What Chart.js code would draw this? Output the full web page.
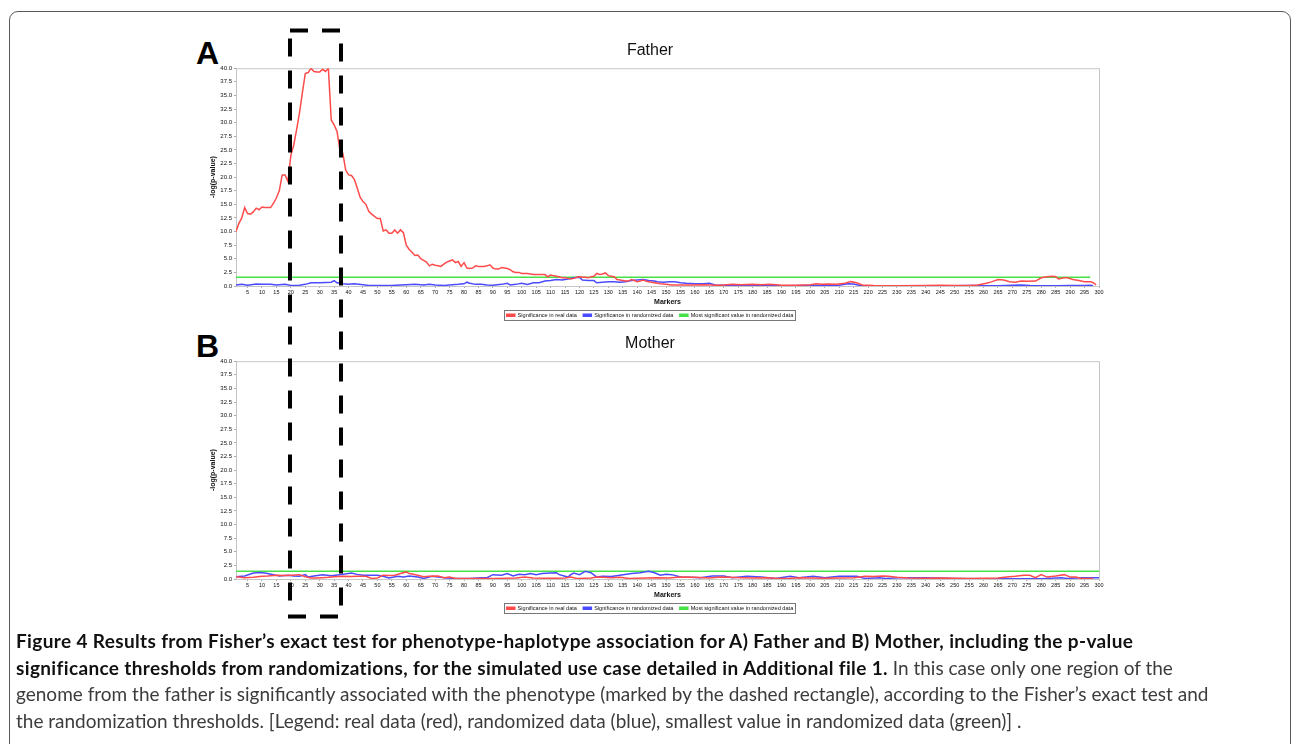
<!DOCTYPE html>
<html>
<head>
<meta charset="utf-8">
<title>Figure 4</title>
<script src="https://cdn.jsdelivr.net/npm/chart.js@4.4.1/dist/chart.umd.min.js"></script>
<style>
  html, body { margin: 0; padding: 0; background: #fff; }
  body { width: 1292px; height: 744px; overflow: hidden; position: relative; font-family: "Liberation Sans", Arial, sans-serif; }
  .frame { position: absolute; left: 9px; top: 11px; width: 1282px; height: 800px; box-sizing: border-box; border: 1.5px solid #5a5a5a; border-radius: 9px; }
  .panel { position: absolute; left: 201px; width: 906px; height: 290px; }
  #panelA { top: 38px; }
  #panelB { top: 331px; }
  .letter { position: absolute; left: 196px; font: bold 32px/32px "Liberation Sans", Arial, sans-serif; color: #000; }
  #box { position: absolute; left: 0; top: 0; pointer-events: none; }
  .caption { position: absolute; left: 16px; top: 628px; font-family: Lato, "Open Sans", sans-serif; font-size: 19px; line-height: 26.7px; color: #3c3c3c; white-space: nowrap; }
  .caption b { color: #111; letter-spacing: 0.36px; }
</style>
</head>
<body>
<div class="frame"></div>
<div class="letter" style="top:37px">A</div>
<div class="letter" style="top:330px">B</div>
<div class="panel" id="panelA"><canvas id="fatherChart"></canvas></div>
<div class="panel" id="panelB"><canvas id="motherChart"></canvas></div>
<svg id="box" width="1292" height="744">
  <rect x="290" y="30.5" width="51" height="586" fill="none" stroke="#000" stroke-width="4" stroke-dasharray="18 14"></rect>
</svg>
<div class="caption">
<b>Figure 4 Results from Fisher’s exact test for phenotype-haplotype association for A) Father and B) Mother, including the p-value</b><br>
<b>significance thresholds from randomizations, for the simulated use case detailed in Additional file 1.</b> In this case only one region of the<br>
genome from the father is significantly associated with the phenotype (marked by the dashed rectangle), according to the Fisher’s exact test and<br>
the randomization thresholds. [Legend: real data (red), randomized data (blue), smallest value in randomized data (green)] .
</div>
<script>
// axis ticks
const xTicks = [5, 10, 15, 20, 25, 30, 35, 40, 45, 50, 55, 60, 65, 70, 75, 80, 85, 90, 95, 100,
    105, 110, 115, 120, 125, 130, 135, 140, 145, 150, 155, 160, 165, 170, 175, 180, 185, 190, 195, 200,
    205, 210, 215, 220, 225, 230, 235, 240, 245, 250, 255, 260, 265, 270, 275, 280, 285, 290, 295, 300];
const yTicks = [0, 2.5, 5, 7.5, 10, 12.5, 15, 17.5, 20, 22.5, 25, 27.5, 30, 32.5, 35, 37.5, 40];

const legendNames = ['Significance in real data', 'Significance in randomized data', 'Most significant value in randomized data'];

// Father - real data
const fatherRealMarkers = [1, 2, 3, 4, 5, 6, 7, 8, 9, 10, 11, 12, 13, 14, 15, 16, 17, 18, 19, 20,
    21, 22, 23, 24, 25, 26, 27, 28, 29, 30, 31, 32, 33, 34, 35, 36, 37, 38, 39, 40,
    41, 42, 43, 44, 45, 46, 47, 48, 49, 50, 51, 52, 53, 54, 55, 56, 57, 58, 59, 60,
    61, 62, 63, 64, 65, 66, 67, 68, 69, 70, 71, 72, 73, 74, 75, 76, 77, 78, 79, 80,
    81, 82, 83, 84, 85, 87, 88, 89, 90, 91, 92, 93, 94, 95, 96, 97, 98, 99, 100,
    102, 104, 106, 108, 109, 110, 111, 112, 113, 114, 115, 116, 117, 118, 119, 120,
    121, 122, 123, 124, 125, 126, 127, 128, 129, 130, 131, 132, 133, 134, 135, 136, 137, 138, 139, 140,
    141, 142, 143, 144, 145, 146, 148, 150, 152, 155, 158, 160, 163, 165, 168, 170, 173, 176, 180,
    183, 186, 190, 195, 200, 202, 204, 206, 209, 212, 214, 216, 218, 222, 230, 240, 245, 250, 255, 258,
    261, 263, 265, 267, 269, 271, 273, 275, 278, 280, 282, 284, 285, 286, 288, 289, 291, 293, 295, 297, 298, 299];
const fatherRealValues = [10.0, 11.5, 12.5, 14.4, 13.3, 13.2, 13.6, 14.3, 14.0, 14.5, 14.4, 14.4, 14.4, 15.2, 16.2, 17.5, 20.4, 20.4, 19.2, 24.0,
    25.9, 28.7, 31.8, 35.5, 39.0, 39.2, 40.0, 39.4, 39.3, 39.3, 39.8, 39.4, 40.0, 30.5, 29.6, 28.4, 25.0, 24.4, 21.3, 20.4,
    20.3, 19.6, 18.0, 16.3, 15.5, 15.0, 13.7, 13.2, 12.8, 12.4, 12.4, 10.1, 10.3, 9.7, 9.7, 10.3, 9.7, 10.3, 9.8, 7.5,
    6.7, 6.2, 5.6, 5.7, 5.0, 4.7, 4.4, 3.7, 4.0, 3.8, 3.7, 3.6, 4.0, 4.4, 4.6, 4.8, 4.3, 4.5, 3.6, 4.3,
    3.3, 3.2, 3.3, 3.7, 3.6, 3.6, 3.7, 3.9, 3.3, 3.1, 3.1, 3.4, 3.3, 3.2, 3.0, 2.6, 2.5, 2.5, 2.3,
    2.3, 2.1, 2.1, 2.1, 1.7, 2.0, 1.9, 1.8, 1.7, 1.5, 1.5, 1.4, 1.3, 1.4, 1.6, 1.7,
    1.6, 1.6, 1.5, 1.7, 1.8, 2.3, 2.1, 2.2, 2.4, 1.9, 1.8, 1.7, 1.2, 1.1, 1.0, 0.9, 0.9, 1.2, 1.0, 0.8,
    0.9, 1.1, 0.9, 0.8, 0.7, 0.6, 0.4, 0.3, 0.2, 0.2, 0.2, 0.2, 0.25, 0.2, 0.15, 0.2, 0.3, 0.25, 0.3,
    0.25, 0.3, 0.15, 0.15, 0.25, 0.4, 0.3, 0.35, 0.3, 0.5, 0.8, 0.6, 0.2, 0.1, 0.05, 0.1, 0.15, 0.1, 0.1, 0.2,
    0.5, 0.8, 1.2, 1.1, 0.8, 0.7, 0.9, 0.85, 0.9, 1.5, 1.7, 1.8, 1.7, 1.3, 1.5, 1.5, 1.2, 1.0, 0.8, 0.8, 0.6, 0.2];

// Father - randomized data
const fatherRandMarkers = [1, 3, 5, 8, 10, 13, 15, 18, 20, 23, 25, 27, 30, 32, 34, 35, 36, 38, 40, 42,
    45, 47, 50, 55, 58, 60, 63, 66, 68, 70, 73, 76, 78, 80, 81, 82, 84, 86, 88, 90,
    93, 95, 96, 98, 100, 102, 104, 106, 108, 110, 112, 114, 116, 118, 120, 121, 123, 125, 126, 128,
    130, 132, 134, 136, 138, 140, 142, 144, 146, 147, 149, 151, 153, 155, 157, 160, 163, 165, 167, 170,
    175, 180, 185, 190, 200, 205, 210, 213, 215, 217, 225, 240, 250, 255, 260, 265, 270, 273, 276, 280,
    285, 290, 295, 297, 298];
const fatherRandValues = [0.2, 0.3, 0.15, 0.35, 0.3, 0.3, 0.2, 0.3, 0.1, 0.15, 0.3, 0.6, 0.6, 0.65, 0.7, 1.0, 0.6, 0.4, 0.3, 0.4,
    0.25, 0.1, 0.1, 0.1, 0.2, 0.25, 0.3, 0.2, 0.3, 0.2, 0.1, 0.25, 0.3, 0.4, 0.7, 0.5, 0.3, 0.3, 0.2, 0.15,
    0.3, 0.5, 0.2, 0.3, 0.5, 0.3, 0.6, 0.6, 0.9, 1.0, 1.2, 1.1, 1.3, 1.5, 1.6, 1.1, 1.0, 1.0, 0.6, 0.7,
    0.8, 0.8, 0.7, 0.8, 1.0, 1.1, 1.2, 1.0, 0.9, 0.8, 0.7, 0.8, 0.8, 0.6, 0.5, 0.4, 0.4, 0.5, 0.2, 0.15,
    0.1, 0.15, 0.1, 0.05, 0.1, 0.1, 0.15, 0.4, 0.35, 0.1, 0.05, 0.05, 0.05, 0.1, 0.05, 0.05, 0.15, 0.2, 0.1, 0.05,
    0.05, 0.1, 0.1, 0.15, 0.05];

// Mother - real data
const motherRealMarkers = [1, 4, 7, 10, 12, 15, 18, 20, 23, 25, 27, 29, 31, 33, 35, 38, 41, 43, 46, 48,
    50, 52, 54, 56, 58, 60, 61, 62, 64, 66, 68, 71, 73, 75, 77, 80, 85, 90, 95, 98,
    101, 104, 108, 112, 115, 117, 119, 122, 124, 126, 128, 131, 134, 137, 140, 143, 147, 151, 155, 160,
    165, 169, 172, 176, 180, 185, 189, 193, 197, 200, 205, 210, 215, 219, 222, 225, 227, 230, 234, 240,
    245, 250, 255, 260, 265, 268, 271, 274, 276, 278, 280, 282, 285, 288, 290, 292, 294, 298];
const motherRealValues = [0.4, 0.25, 0.3, 0.5, 0.55, 0.7, 0.65, 0.7, 0.8, 0.4, 0.2, 0.2, 0.25, 0.3, 0.4, 0.5, 0.45, 0.5, 0.5, 0.1,
    0.2, 0.7, 0.65, 0.7, 1.0, 1.3, 1.0, 0.9, 0.7, 0.4, 0.5, 0.55, 0.25, 0.35, 0.1, 0.1, 0.1, 0.1, 0.15, 0.2,
    0.35, 0.2, 0.15, 0.15, 0.2, 0.35, 0.1, 0.15, 0.2, 0.35, 0.3, 0.25, 0.3, 0.1, 0.15, 0.2, 0.25, 0.2, 0.35, 0.3,
    0.2, 0.35, 0.3, 0.25, 0.2, 0.25, 0.1, 0.15, 0.25, 0.2, 0.15, 0.2, 0.25, 0.5, 0.45, 0.55, 0.5, 0.3, 0.2, 0.15,
    0.2, 0.15, 0.1, 0.15, 0.2, 0.35, 0.5, 0.7, 0.7, 0.25, 0.8, 0.35, 0.55, 0.8, 0.35, 0.35, 0.1, 0.1];

// Mother - randomized data
const motherRandMarkers = [1, 4, 7, 9, 11, 14, 16, 19, 21, 23, 25, 26, 28, 31, 34, 37, 41, 43, 45, 48,
    50, 52, 54, 57, 59, 61, 64, 66, 69, 71, 74, 77, 82, 86, 88, 90, 93, 95, 97, 99,
    101, 103, 105, 107, 110, 112, 113, 116, 117, 118, 120, 122, 124, 126, 128, 131, 134, 138, 141, 144,
    146, 148, 150, 152, 155, 158, 162, 166, 170, 173, 178, 183, 188, 193, 196, 201, 205, 210, 216, 219,
    224, 226, 231, 240, 250, 260, 270, 280, 287, 289, 294, 300];
const motherRandValues = [0.4, 0.55, 1.1, 1.2, 1.1, 0.8, 0.55, 0.7, 0.55, 0.5, 0.8, 0.35, 0.55, 0.8, 0.6, 0.8, 1.1, 0.85, 0.7, 0.7,
    0.7, 0.5, 0.2, 0.5, 0.35, 0.55, 0.35, 0.1, 0.5, 0.35, 0.2, 0.1, 0.1, 0.25, 0.25, 0.8, 0.7, 1.0, 0.55, 0.85,
    0.8, 1.0, 0.8, 1.0, 1.1, 1.15, 0.8, 0.35, 0.8, 1.1, 0.8, 1.4, 1.15, 0.35, 0.5, 0.45, 0.7, 1.0, 1.15, 1.4,
    1.15, 0.7, 0.85, 0.8, 0.35, 0.3, 0.25, 0.55, 0.55, 0.25, 0.5, 0.35, 0.1, 0.5, 0.25, 0.5, 0.25, 0.5, 0.5, 0.1,
    0.25, 0.1, 0.25, 0.25, 0.1, 0.05, 0.05, 0.05, 0.25, 0.1, 0.25, 0.25];

// most significant value in randomized data (threshold lines)
const fatherThresholdMarkers = [1, 297];
const fatherThresholdValues = [1.6, 1.6];
const motherThresholdMarkers = [1, 300];
const motherThresholdValues = [1.42, 1.42];

const RED = 'rgb(255, 75, 75)';
const BLUE = 'rgb(75, 75, 255)';
const GREEN = 'rgb(70, 225, 70)';

const toPoints = (xs, ys) => xs.map((x, i) => ({ x: x, y: ys[i] }));

// grey frame round the plot area
const plotFrame = {
    id: 'plotFrame',
    beforeDatasetsDraw(chart) {
        const a = chart.chartArea;
        const ctx = chart.ctx;
        ctx.save();
        ctx.strokeStyle = '#c6c6c6';
        ctx.lineWidth = 1;
        ctx.strokeRect(a.left + 0.5, a.top + 0.5, a.right - a.left, a.bottom - a.top);
        ctx.restore();
    }
};

// box round the legend items
const legendFrame = {
    id: 'legendFrame',
    afterDraw(chart) {
        const boxes = chart.legend.legendHitBoxes;
        if (!boxes || !boxes.length) return;
        const first = boxes[0];
        const last = boxes[boxes.length - 1];
        const ctx = chart.ctx;
        ctx.save();
        ctx.strokeStyle = '#777';
        ctx.lineWidth = 1;
        ctx.strokeRect(Math.round(first.left - 3) + 0.5, Math.round(first.top - 2) + 0.5,
            Math.round(last.left + last.width - first.left + 5), Math.round(first.height + 4));
        ctx.restore();
    }
};

function makeChart(canvasId, title, real, rand, threshold) {
    return new Chart(document.getElementById(canvasId), {
        type: 'line',
        data: {
            datasets: [{
                label: legendNames[0],
                data: real,
                borderColor: RED,
                backgroundColor: RED
            }, {
                label: legendNames[1],
                data: rand,
                borderColor: BLUE,
                backgroundColor: BLUE
            }, {
                label: legendNames[2],
                data: threshold,
                borderColor: GREEN,
                backgroundColor: GREEN
            }]
        },
        options: {
            responsive: true,
            maintainAspectRatio: false,
            animation: false,
            layout: { padding: { left: 0, right: 8, top: 0, bottom: 0 } },
            elements: {
                line: { borderWidth: 1.5, tension: 0 },
                point: { radius: 0 }
            },
            plugins: {
                title: {
                    display: true,
                    text: title,
                    color: '#111',
                    font: { family: 'Liberation Sans', size: 16, weight: 'normal' },
                    padding: { top: 3, bottom: 8 }
                },
                legend: {
                    position: 'bottom',
                    labels: {
                        color: '#111',
                        font: { family: 'Liberation Sans', size: 5.6 },
                        boxWidth: 8,
                        boxHeight: 2,
                        padding: 6.4
                    }
                },
                tooltip: { enabled: false }
            },
            scales: {
                x: {
                    type: 'linear',
                    min: 1,
                    max: 300,
                    afterBuildTicks: s => { s.ticks = xTicks.map(v => ({ value: v })); },
                    grid: { display: true, drawOnChartArea: false, tickLength: 2, color: '#aaa' },
                    border: { color: '#999' },
                    ticks: {
                        autoSkip: false,
                        maxRotation: 0,
                        padding: 1.5,
                        color: '#111',
                        font: { family: 'Liberation Sans', size: 5.5 }
                    },
                    title: {
                        display: true,
                        text: 'Markers',
                        color: '#111',
                        font: { family: 'Liberation Sans', size: 7, weight: 'bold' },
                        padding: { top: 0, bottom: 0 }
                    }
                },
                y: {
                    min: 0,
                    max: 40,
                    afterBuildTicks: s => { s.ticks = yTicks.map(v => ({ value: v })); },
                    afterFit: s => { s.width = 35; },
                    grid: { display: true, drawOnChartArea: false, tickLength: 2, color: '#aaa' },
                    border: { color: '#999' },
                    ticks: {
                        padding: 2,
                        color: '#111',
                        font: { family: 'Liberation Sans', size: 6 },
                        callback: v => v.toFixed(1)
                    },
                    title: {
                        display: true,
                        text: '-log(p-value)',
                        color: '#111',
                        font: { family: 'Liberation Sans', size: 7, weight: 'bold' },
                        padding: { top: 8.3, bottom: 0 }
                    }
                }
            }
        },
        plugins: [plotFrame, legendFrame]
    });
}

const fatherChart = makeChart('fatherChart', 'Father',
    toPoints(fatherRealMarkers, fatherRealValues),
    toPoints(fatherRandMarkers, fatherRandValues),
    toPoints(fatherThresholdMarkers, fatherThresholdValues));

const motherChart = makeChart('motherChart', 'Mother',
    toPoints(motherRealMarkers, motherRealValues),
    toPoints(motherRandMarkers, motherRandValues),
    toPoints(motherThresholdMarkers, motherThresholdValues));
</script>
</body>
</html>
